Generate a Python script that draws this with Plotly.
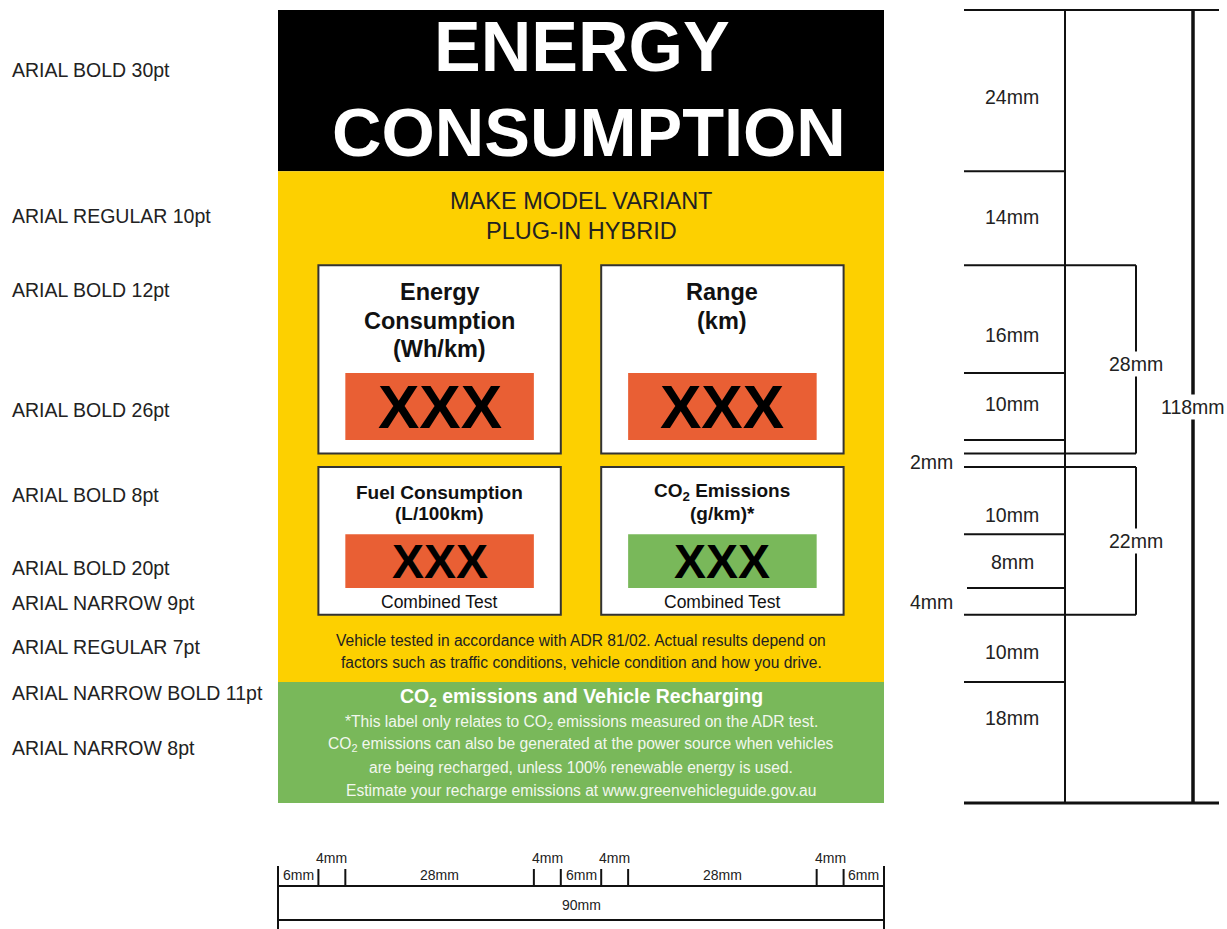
import numpy as np
import plotly.graph_objects as go

# ---------------- data (mm) ----------------
v_heights = [24, 14, 16, 10, 2, 2, 10, 8, 4, 10, 18]
v_labels = ["24mm", "14mm", "16mm", "10mm", "", "2mm", "10mm", "8mm", "4mm", "10mm", "18mm"]
h_widths = [6, 4, 28, 4, 6, 4, 28, 4, 6]
h_labels = ["6mm", "4mm", "28mm", "4mm", "6mm", "4mm", "28mm", "4mm", "6mm"]
bracket_labels = ["28mm", "22mm"]
total_height_label = "118mm"
total_width_label = "90mm"

spec_labels = ["ARIAL BOLD 30pt", "ARIAL REGULAR 10pt", "ARIAL BOLD 12pt", "ARIAL BOLD 26pt",
               "ARIAL BOLD 8pt", "ARIAL BOLD 20pt", "ARIAL NARROW 9pt", "ARIAL REGULAR 7pt",
               "ARIAL NARROW BOLD 11pt", "ARIAL NARROW 8pt"]
spec_label_px = [70, 216, 290, 410, 495, 568, 603, 647, 693, 748]

title_lines = ["ENERGY", "CONSUMPTION"]
model_lines = ["MAKE MODEL VARIANT", "PLUG-IN HYBRID"]
top_tiles = [["Energy", "Consumption", "(Wh/km)"], ["Range", "(km)"]]
bottom_tiles = [["Fuel Consumption", "(L/100km)"], ["CO<sub>2</sub> Emissions", "(g/km)*"]]
tile_values = ["XXX", "XXX", "XXX", "XXX"]
tile_colors = ["#E95F34", "#E95F34", "#E95F34", "#79B85A"]
test_note = "Combined Test"
disclaimer = ["Vehicle tested in accordance with ADR 81/02. Actual results depend on",
              "factors such as traffic conditions, vehicle condition and how you drive."]
green_title = "CO<sub>2</sub> emissions and Vehicle Recharging"
green_lines = ["*This label only relates to CO<sub>2</sub> emissions measured on the ADR test.",
               "CO<sub>2</sub> emissions can also be generated at the power source when vehicles",
               "are being recharged, unless 100% renewable energy is used.",
               "Estimate your recharge emissions at www.greenvehicleguide.gov.au"]

# ---------------- geometry ----------------
W, H = 1227, 929
X0, Y0 = 278, 10
KX = 606 / 90.0
KY = 793 / 118.0


def px2x(p):
    return (p - X0) / KX


def px2y(p):
    return (p - Y0) / KY


yb = np.concatenate([[0], np.cumsum(v_heights)])   # 0,24,38,54,64,66,68,78,86,90,100,118
xb = np.concatenate([[0], np.cumsum(h_widths)])    # 0,6,10,38,42,48,52,80,84,90

ARIAL = "Liberation Sans, Arial, sans-serif"
NARROW = "Liberation Sans Narrow, Arial Narrow, Liberation Sans, Arial, sans-serif"
YELLOW = "#FDD000"
BLACK = "#000000"
GREEN = "#79B85A"
DARK = "#222222"

shapes = []
ann = []


def rect(x0, x1, y0, y1, fill, line=None, lw=0):
    shapes.append(dict(type="rect", xref="x", yref="y", x0=x0, x1=x1, y0=y0, y1=y1,
                       fillcolor=fill, line=dict(color=line or fill, width=lw), layer="below"))


def seg(x0, y0, x1, y1, lw=2, color="#111111"):
    shapes.append(dict(type="line", xref="x", yref="y", x0=x0, y0=y0, x1=x1, y1=y1,
                       line=dict(color=color, width=lw)))


def text(x, y, s, size, color=DARK, family=ARIAL, bold=False, xanchor="center", bg=None):
    if bold:
        s = "<b>" + s + "</b>"
    a = dict(x=x, y=y, xref="x", yref="y", text=s, showarrow=False, xanchor=xanchor,
             yanchor="middle", font=dict(size=size, color=color, family=family))
    if bg:
        a.update(bgcolor=bg, borderpad=1)
    ann.append(a)


# label bands
rect(xb[0], xb[-1], yb[0], yb[1], BLACK)
rect(xb[0], xb[-1], yb[1], yb[10], YELLOW)
rect(xb[0], xb[-1], yb[10], yb[11], GREEN)

# title
text(px2x(582), px2y(46.5), title_lines[0], 70, "white", bold=True)
text(px2x(589), px2y(132.5), title_lines[1], 68.5, "white", bold=True)

# model
text(45, px2y(201), model_lines[0], 23.5, DARK)
text(45, px2y(231), model_lines[1], 23.5, DARK)

# tiles
tile_x = [(xb[1], xb[4], xb[2], xb[3]), (xb[5], xb[8], xb[6], xb[7])]
rows = [(yb[2], yb[5], yb[3], yb[4]), (yb[6], yb[9], yb[7], yb[8])]
k = 0
for r, (ty0, ty1, by0, by1) in enumerate(rows):
    for c, (tx0, tx1, bx0, bx1) in enumerate(tile_x):
        rect(tx0, tx1, ty0, ty1, "white", "#333333", 2)
        rect(bx0, bx1, by0, by1, tile_colors[k])
        cx = (tx0 + tx1) / 2
        if r == 0:
            for i, ln in enumerate(top_tiles[c]):
                text(cx, px2y(292 + 28.5 * i), ln, 23.5, "#111111", bold=True)
            text(cx, (by0 + by1) / 2, tile_values[k], 62, "#000000", bold=True)
        else:
            for i, ln in enumerate(bottom_tiles[c]):
                text(cx, px2y(492 + 21 * i), ln, 19, "#111111", bold=True)
            text(cx, (by0 + by1) / 2, tile_values[k], 48, "#000000", bold=True)
            text(cx, px2y(602), test_note, 17.5, "#111111", family=NARROW)
        k += 1

# disclaimer
text(45, px2y(640), disclaimer[0], 15.6, DARK, family=NARROW)
text(45, px2y(662), disclaimer[1], 15.6, DARK, family=NARROW)

# green panel
text(45, px2y(697), green_title, 19.5, "white", family=NARROW, bold=True)
for i, ln in enumerate(green_lines):
    text(45, px2y(722 + 22.7 * i), ln, 15.6, "#F2F7EE", family=NARROW)

# ---------------- right dimension diagram ----------------
xr0 = px2x(964)
xr_seg = px2x(1065)
xr_br = px2x(1136)
xr_tot = px2x(1193)
xr_end = px2x(1219)

short_idx = [1, 3, 4, 7, 8, 10]
bracket_idx = [2, 5, 6, 9]
seg(xr0, yb[0], xr_end, yb[0], 2)
seg(xr0, yb[-1], xr_end, yb[-1], 3)
for i in short_idx:
    seg(px2x(967) if i == 8 else xr0, yb[i], xr_seg, yb[i], 2)
for i in bracket_idx:
    seg(xr0, yb[i], xr_br, yb[i], 2)
seg(xr_seg, yb[0], xr_seg, yb[-1], 2)
seg(xr_tot, yb[0], xr_tot, yb[-1], 3.5)
seg(xr_br, yb[2], xr_br, yb[5], 2)
seg(xr_br, yb[6], xr_br, yb[9], 2)

label_px = [97, 217, 335, 404, None, 462, 515, 562, 602, 652, 718]
for i, lab in enumerate(v_labels):
    if not lab:
        continue
    if i in (5, 8):
        text(px2x(955), px2y(label_px[i]), lab, 19.5, DARK, family=NARROW, xanchor="right")
    else:
        text(px2x(1012), px2y(label_px[i]), lab, 19.5, DARK, family=NARROW)
text(xr_br, (yb[2] + yb[5]) / 2 + 0.7, bracket_labels[0], 19.5, DARK, family=NARROW, bg="white")
text(xr_br, (yb[6] + yb[9]) / 2, bracket_labels[1], 19.5, DARK, family=NARROW, bg="white")
text(xr_tot, (yb[0] + yb[-1]) / 2, total_height_label, 19.5, DARK, family=NARROW, bg="white")

# ---------------- bottom dimension diagram ----------------
yl1 = px2y(886)
yl2 = px2y(920)
seg(xb[0], yl1, xb[-1], yl1, 2)
seg(xb[0], yl2, xb[-1], yl2, 2)
seg(xb[0], px2y(866), xb[0], px2y(935), 2)
seg(xb[-1], px2y(866), xb[-1], px2y(935), 2)
for xv in xb[1:-1]:
    seg(xv, px2y(869), xv, yl1, 2)
for i, lab in enumerate(h_labels):
    mid = (xb[i] + xb[i + 1]) / 2
    if lab == "4mm":
        text(mid, px2y(858), lab, 14, DARK, family=NARROW)
    else:
        text(mid, px2y(875), lab, 14, DARK, family=NARROW)
text(45, px2y(905), total_width_label, 14, DARK, family=NARROW)

# ---------------- left spec labels ----------------
for lab, p in zip(spec_labels, spec_label_px):
    text(px2x(10), px2y(p), lab, 19.5, "#222222", xanchor="left")

fig = go.Figure()
fig.update_layout(
    width=W, height=H, margin=dict(l=0, r=0, t=0, b=0),
    paper_bgcolor="white", plot_bgcolor="white",
    xaxis=dict(range=[px2x(0), px2x(W)], visible=False, fixedrange=True),
    yaxis=dict(range=[px2y(H), px2y(0)], visible=False, fixedrange=True),
    shapes=shapes, annotations=ann, showlegend=False,
)
fig.write_html(
    "out.html",
    config={"displayModeBar": False},
    post_script="document.body.style.margin='0px';document.body.style.padding='0px';"
                "document.documentElement.style.overflow='hidden';",
)
